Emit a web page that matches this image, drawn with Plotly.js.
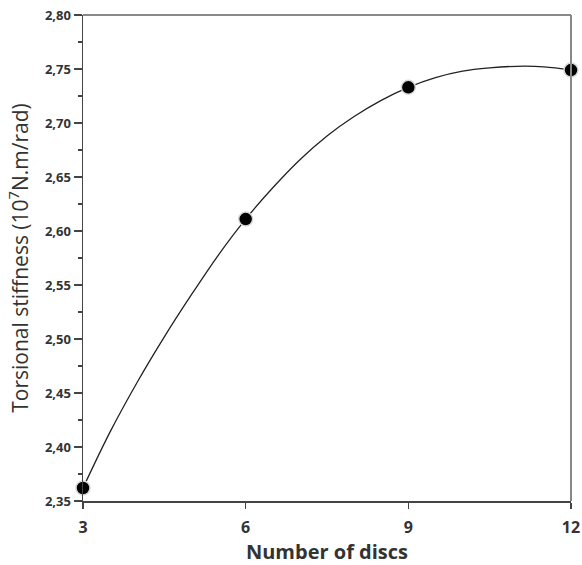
<!DOCTYPE html>
<html><head><meta charset="utf-8">
<script src="https://cdn.plot.ly/plotly-3.0.1.min.js"></script>
<style>html,body{margin:0;padding:0;background:#fff}#chart{width:582px;height:565px}</style>
</head><body><div id="chart"></div>
<script>
// measured points
const discs = [3, 6, 9, 12];
const stiffness = [2.362, 2.611, 2.733, 2.749];
// fitted curve
const curveX = [3, 3.5, 4, 4.5, 5, 5.5, 6, 6.5, 7, 7.5, 8, 8.5, 9, 9.5, 10, 10.5, 11, 11.5, 12];
const curveY = [2.362, 2.414, 2.460, 2.502, 2.541, 2.578, 2.611, 2.640, 2.666, 2.688, 2.706, 2.721, 2.733, 2.742, 2.748, 2.751, 2.7525, 2.752, 2.749];
const xTicks = [3, 6, 9, 12];
const yTicks = [2.35, 2.40, 2.45, 2.50, 2.55, 2.60, 2.65, 2.70, 2.75, 2.80];
const yTickText = yTicks.map(v => v.toFixed(2).replace('.', ','));

const font = '"Open Sans", "DejaVu Sans", sans-serif';
const data = [
  {x: curveX, y: curveY, mode: 'lines', line: {shape: 'spline', smoothing: 1, color: '#222', width: 1.3},
   hoverinfo: 'skip', showlegend: false, cliponaxis: false},
  {x: discs, y: stiffness, mode: 'markers', marker: {size: 14, color: '#000', line: {color: '#d8d8d8', width: 1.5}},
   showlegend: false, cliponaxis: false}
];
const layout = {
  width: 582, height: 565,
  margin: {l: 83, r: 11, t: 15, b: 64},
  paper_bgcolor: '#fff', plot_bgcolor: '#fff',
  font: {family: font, color: '#333'},
  xaxis: {range: [3, 12], tickvals: xTicks, ticktext: xTicks.map(String), ticks: 'outside', ticklen: 6, tickwidth: 1.5,
    tickcolor: '#444', showline: true, linecolor: '#444', linewidth: 1.5, showgrid: false, zeroline: false,
    ticklabelstandoff: 5,
    tickfont: {family: font, size: 16, color: '#333', weight: 'bold'},
    title: {text: '<b>Number of discs</b>', font: {family: font, size: 20, color: '#333'}, standoff: 5}},
  yaxis: {range: [2.35, 2.80], tickvals: yTicks, ticktext: yTickText, ticks: 'outside', ticklen: 8, tickwidth: 1.5,
    tickcolor: '#444', showline: true, linecolor: '#444', linewidth: 1.5, showgrid: false, zeroline: false,
    tickfont: {family: font, size: 13, color: '#333', weight: 'bold'},
    minor: {dtick: 0.025, tick0: 2.35, ticks: 'outside', ticklen: 4, tickwidth: 1.2, tickcolor: '#444', showgrid: false},
    title: {text: 'Torsional stiffness (10<sup>7</sup>N.m/rad)', font: {family: font, size: 21, color: '#333'}, standoff: 10}},
  shapes: [
    {type: 'line', xref: 'paper', yref: 'paper', x0: 0, x1: 1, y0: 1, y1: 1, line: {color: '#888', width: 2}},
    {type: 'line', xref: 'paper', yref: 'paper', x0: 1, x1: 1, y0: 0, y1: 1, line: {color: '#888', width: 2}}
  ]
};
Plotly.newPlot('chart', data, layout, {displayModeBar: false, staticPlot: true});
</script></body></html>
